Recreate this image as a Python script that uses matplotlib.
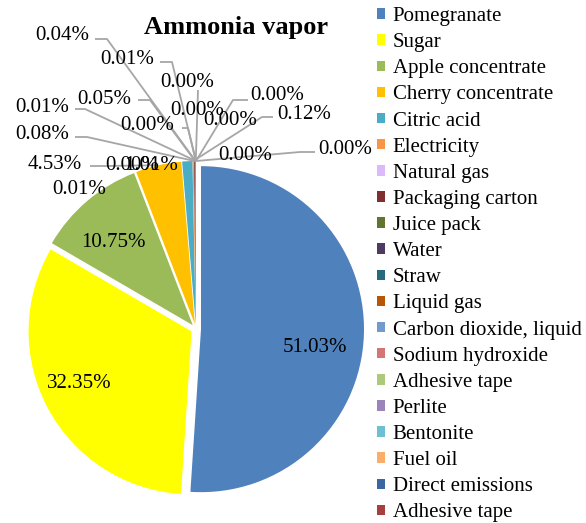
import matplotlib.pyplot as plt
import numpy as np

plt.rcParams["font.family"] = ["Liberation Serif", "DejaVu Serif"]

# ── data ─────────────────────────────────────────────────────────────────────

TITLE = "Ammonia vapor"

SOURCES = [
    "Pomegranate", "Sugar", "Apple concentrate", "Cherry concentrate",
    "Citric acid", "Electricity", "Natural gas", "Packaging carton",
    "Juice pack", "Water", "Straw", "Liquid gas", "Carbon dioxide, liquid",
    "Sodium hydroxide", "Adhesive tape", "Perlite", "Bentonite", "Fuel oil",
    "Direct emissions", "Adhesive tape",
]

SHARES = [
    51.03, 32.35, 10.75, 4.53, 1.01, 0.12, 0.01, 0.08, 0.05, 0.00,
    0.04, 0.00, 0.01, 0.01, 0.00, 0.00, 0.00, 0.00, 0.00, 0.00,
]

COLORS = [
    "#4F81BD", "#FFFF00", "#9BBB59", "#FFC000", "#4BACC6", "#F79646",
    "#DCB9FA", "#7F2F2F", "#5F7530", "#4D3B62", "#276A7C", "#B65708",
    "#729ACA", "#D27574", "#AFC97A", "#9A84BA", "#6FBFD3", "#FBAE6A",
    "#3B67A0", "#A5403D",
]

# ── layout (pixels, origin top-left) ─────────────────────────────────────────

W, H = 586, 523
CENTER = (196, H - 329)
RADIUS = 163
EXPLODE = 5

# label left edge / vertical centre, and leader-line points leading off the text
LABELS = {
    3:  ((28, 162),  [(90, 166), (105, 166)]),
    4:  ((124, 163), None),
    5:  ((277, 112), [(273, 117), (262, 117)]),
    6:  ((52, 187),  None),
    7:  ((15, 132),  [(75, 137), (87, 137)]),
    8:  ((77, 97),   [(138, 100), (150, 100)]),
    9:  ((105, 163), None),
    10: ((35, 33),   [(95, 39), (107, 39)]),
    11: ((160, 80),  [(198, 90)]),
    12: ((100, 57),  [(160, 62), (172, 62)]),
    13: ((15, 105),  [(75, 109), (85, 109)]),
    14: ((120, 123), [(182, 128), (188, 128)]),
    15: ((170, 108), None),
    16: ((203, 118), None),
    17: ((250, 93),  [(248, 100), (233, 100)]),
    18: ((218, 153), None),
    19: ((318, 147), [(315, 152), (300, 152)]),
}
# big slices carry their label inside (text centre)
INSIDE = {0: (315, 345), 1: (79, 381), 2: (113, 240)}

LINE_COLOR = "#A6A6A6"
FS = 15


def px(p):
    return p[0], H - p[1]


def rim_point(w):
    ang = np.deg2rad((w.theta1 + w.theta2) / 2)
    return (w.center[0] + w.r * np.cos(ang),
            w.center[1] + w.r * np.sin(ang))


fig = plt.figure(figsize=(W / 100, H / 100), dpi=100)
ax = fig.add_axes([0, 0, 1, 1])

wedges, _ = ax.pie(
    SHARES, colors=COLORS, startangle=90, counterclock=False,
    center=CENTER, radius=RADIUS, explode=[EXPLODE] * len(SHARES),
    wedgeprops=dict(linewidth=0),
)
ax.set_xlim(0, W)
ax.set_ylim(0, H)
ax.axis("off")

for i, (cx, cy) in INSIDE.items():
    ax.text(cx, H - cy - 7, f"{SHARES[i]:.2f}%", ha="center", va="baseline",
            fontsize=FS, color="black")

for i, ((lx, ly), path) in LABELS.items():
    if path:
        pts = [px(p) for p in path] + [rim_point(wedges[i])]
        xs, ys = zip(*pts)
        ax.plot(xs, ys, color=LINE_COLOR, lw=1.3, solid_capstyle="butt",
                zorder=3)
    ax.text(lx, H - ly - 7, f"{SHARES[i]:.2f}%", ha="left", va="baseline",
            fontsize=FS, color="black", zorder=4)

fig.text(236 / W, 1 - 34 / H, TITLE, ha="center", va="baseline",
         fontsize=19, fontweight="bold")

ax.legend(
    wedges, SOURCES, loc="upper left", bbox_to_anchor=(377 / W, 1 - 7 / H),
    frameon=False, fontsize=FS, handlelength=0.4, handleheight=0.4,
    handletextpad=0.35, labelspacing=0.342, borderpad=0, borderaxespad=0,
)

fig.savefig("out.png", dpi=100)
